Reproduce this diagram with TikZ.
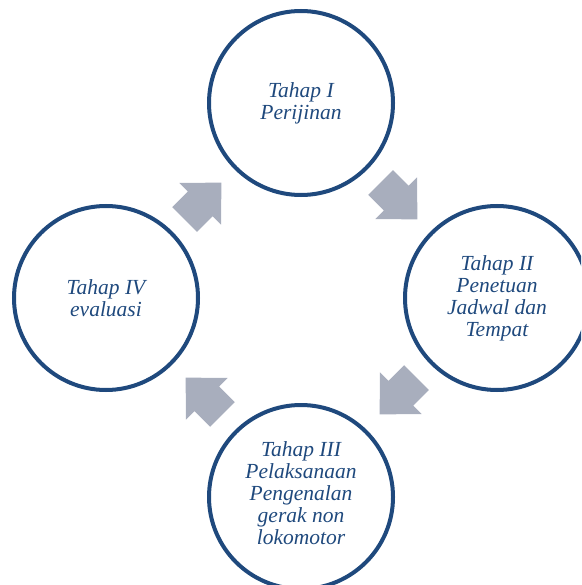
\documentclass[tikz,border=0pt]{standalone}
\usepackage{fontspec}
\setmainfont{Liberation Serif}
\definecolor{stageblue}{RGB}{31,73,125}
\definecolor{arrowgray}{RGB}{168,174,189}
\tikzset{
  stage/.style={circle, draw=stageblue, line width=4pt, minimum size=184pt,
    inner sep=0pt, text=stageblue, align=center,
    font=\fontsize{21.5}{22}\selectfont\itshape},
  blockarrow/.style={fill=arrowgray, draw=none}
}
\newcommand{\blockarrowpath}{(-26,-17.5) -- (-4,-17.5) -- (-4,-29.5) -- (26,0) -- (-4,29.5) -- (-4,17.5) -- (-26,17.5) -- cycle}
\begin{document}
\begin{tikzpicture}[x=1pt,y=-1pt]
\useasboundingbox (0,0) rectangle (581,585);
\clip (0,0) rectangle (581,585);
\node[stage] (s1) at (301,103) {Tahap I\\Perijinan};
\node[stage] (s2) at (497,298) {Tahap II\\Penetuan\\Jadwal dan\\Tempat};
\node[stage] (s3) at (301,497) {};
\node[text=stageblue, align=center, font=\fontsize{21.5}{22}\selectfont\itshape] (t3) at (301,493) {Tahap III\\Pelaksanaan\\Pengenalan\\gerak non\\lokomotor};
\node[stage] (s4) at (106,298) {Tahap IV\\evaluasi};
\begin{scope}[shift={(399,201)}, rotate=-45]
  \fill[blockarrow] \blockarrowpath;
\end{scope}
\begin{scope}[shift={(398,396)}, rotate=-135]
  \fill[blockarrow] \blockarrowpath;
\end{scope}
\begin{scope}[shift={(204,396)}, rotate=135]
  \fill[blockarrow] \blockarrowpath;
\end{scope}
\begin{scope}[shift={(203,201)}, rotate=45]
  \fill[blockarrow] \blockarrowpath;
\end{scope}
\end{tikzpicture}
\end{document}
